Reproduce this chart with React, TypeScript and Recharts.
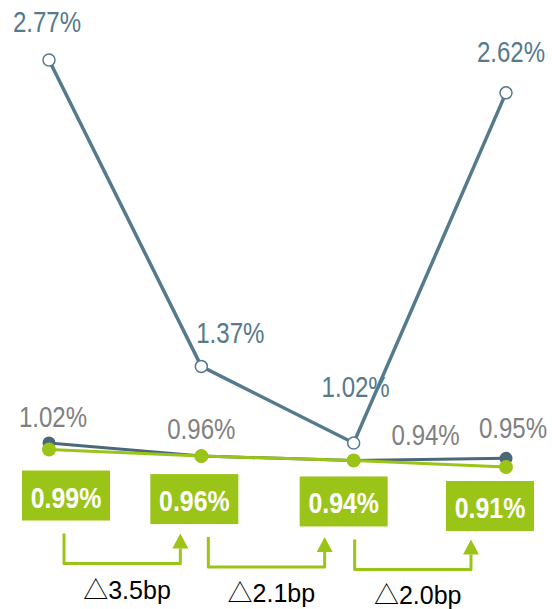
import React from 'react';
import { LineChart, Line, XAxis, YAxis, LabelList } from 'recharts';

// ---- data ----
const categories = ['P1', 'P2', 'P3', 'P4'];
const seriesA = [2.77, 1.37, 1.02, 2.62];
const seriesB = [1.02, 0.96, 0.94, 0.95];
const seriesC = [0.99, 0.96, 0.94, 0.91];
const deltaLabels = ['△3.5bp', '△2.1bp', '△2.0bp'];

const data = categories.map((name, i) => ({
  name,
  a: seriesA[i],
  b: seriesB[i],
  c: seriesC[i],
}));

// ---- layout / style ----
const W = 552;
const H = 609;
const MARGIN = { top: 31.6, right: 46, bottom: 117.9, left: 49 };
const STEP = (W - MARGIN.left - MARGIN.right) / (categories.length - 1);

const COL_A = '#557A8C';
const COL_B = '#4B677A';
const COL_C = '#9BC419';
const COL_GRAY = '#808080';
const FONT = '"Liberation Sans", Arial, sans-serif';
const SQUEEZE = 0.83;

const A_NUDGE = [[-2, -28], [29, -23], [2, -46], [5, -31]];
const B_NUDGE = [[4, -16], [0, -17], [72, -15], [7, -20]];
const BOX_NUDGE = [[17, 21], [-7, 18], [-10, 16], [-16, 14]];
const ARROW_DX = [15, 7, 1];
const BOX_W = 88;
const BOX_H = 50;

const fmt = (v: number) => `${v.toFixed(2)}%`;

const TopLabel = (props: any, nudge: number[][], color: string) => {
  const { x, y, value, index } = props;
  const [dx, dy] = nudge[index] || [0, -20];
  return (
    <text
      transform={`translate(${x + dx},${y + dy}) scale(${SQUEEZE},1)`}
      x={0}
      y={0}
      textAnchor="middle"
      fill={color}
      fontSize={29}
      fontFamily={FONT}
    >
      {fmt(Number(value))}
    </text>
  );
};

const BoxLabel = (props: any) => {
  const { x, y, value, index } = props;
  const [dx, dy] = BOX_NUDGE[index] || [0, 16];
  const cx = x + dx;
  const top = y + dy;
  const items: React.ReactNode[] = [
    <rect key="r" x={cx - BOX_W / 2} y={top} width={BOX_W} height={BOX_H} fill={COL_C} />,
    <text
      key="t"
      transform={`translate(${cx},${top + 37}) scale(${SQUEEZE},1)`}
      x={0}
      y={0}
      textAnchor="middle"
      fill="#ffffff"
      fontSize={30}
      fontWeight="bold"
      fontFamily={FONT}
    >
      {fmt(Number(value))}
    </text>,
  ];
  if (index < deltaLabels.length) {
    const left = x + ARROW_DX[index];
    const right = left + STEP - 36;
    const aTop = top + BOX_H + 13;
    const aBot = aTop + 30;
    const headH = 15;
    const headW = 16;
    items.push(
      <path
        key="p"
        d={`M${left},${aTop} L${left},${aBot} L${right},${aBot} L${right},${aTop + headH}`}
        fill="none"
        stroke={COL_C}
        strokeWidth={3}
        strokeLinejoin="round"
      />,
      <path
        key="h"
        d={`M${right},${aTop} L${right + headW / 2},${aTop + headH} L${right - headW / 2},${aTop + headH} Z`}
        fill={COL_C}
      />,
      <text
        key="d"
        x={left + 63}
        y={aBot + 35}
        textAnchor="middle"
        fill="#000000"
        fontSize={25}
        fontFamily='"Liberation Sans", "Noto Sans CJK JP", sans-serif'
      >
        {deltaLabels[index]}
      </text>
    );
  }
  return <g>{items}</g>;
};

export default function App() {
  return (
    <div style={{ position: 'absolute', left: 0, top: 0, width: W, height: H }}>
      <LineChart width={W} height={H} data={data} margin={MARGIN}>
        <XAxis dataKey="name" hide padding={{ left: 0, right: 0 }} />
        <YAxis hide domain={[0.8, 2.9]} allowDataOverflow />
        <Line
          dataKey="b"
          stroke={COL_B}
          strokeWidth={3}
          dot={{ r: 6.5, fill: COL_B, stroke: 'none' }}
          isAnimationActive={false}
        >
          <LabelList dataKey="b" content={(p: any) => TopLabel(p, B_NUDGE, COL_GRAY)} />
        </Line>
        <Line
          dataKey="c"
          stroke={COL_C}
          strokeWidth={3}
          dot={{ r: 7, fill: COL_C, stroke: 'none' }}
          isAnimationActive={false}
        >
          <LabelList dataKey="c" content={BoxLabel} />
        </Line>
        <Line
          dataKey="a"
          stroke={COL_A}
          strokeWidth={3.5}
          dot={{ r: 6, fill: '#ffffff', stroke: COL_A, strokeWidth: 1.5 }}
          isAnimationActive={false}
        >
          <LabelList dataKey="a" content={(p: any) => TopLabel(p, A_NUDGE, COL_A)} />
        </Line>
      </LineChart>
    </div>
  );
}
